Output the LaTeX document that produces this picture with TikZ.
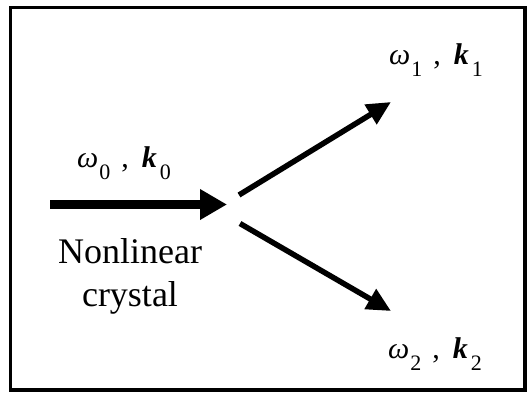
\documentclass[tikz,border=0pt]{standalone}
\usepackage{fontspec}
\setmainfont{Liberation Serif}
\newfontfamily\tnr{Liberation Serif}
\usetikzlibrary{arrows.meta}
\newcommand{\subsz}[1]{\raisebox{-12pt}{\fontsize{22}{22}\selectfont #1}}
\newcommand{\wk}[1]{\textit{ω}\hspace{1pt}\subsz{#1}\hspace{11pt},\hspace{13pt}\textbf{\textit{k}}\hspace{3pt}\subsz{#1}}
\begin{document}
\begin{tikzpicture}[x=1pt,y=-1pt,
  frame/.style={line width=3.5pt},
  beam/.style={line width=9pt,-{Triangle[length=27pt,width=29pt]}},
  outbeam/.style={line width=5.5pt,-{Triangle[length=24pt,width=22pt]}},
  lbl/.style={font=\tnr\fontsize{30}{30}\selectfont, inner sep=0pt, anchor=base west},
  txt/.style={font=\tnr\fontsize{36}{43}\selectfont, inner sep=0pt, align=center, anchor=base}
]
\useasboundingbox (0,0) rectangle (531,392);
\draw[frame] (10.25,7.5) rectangle (525,390);
\coordinate (in) at (50,204.5);
\coordinate (c) at (227,204.5);
\coordinate (s1) at (239,195);
\coordinate (t1) at (391,102);
\coordinate (s2) at (240,223.5);
\coordinate (t2) at (391,311);
\draw[beam] (in) -- (c);
\draw[outbeam] (s1) -- (t1);
\draw[outbeam] (s2) -- (t2);
\node[lbl] (l0) at (77,167) {\wk{0}};
\node[lbl] (l1) at (389,64) {\wk{1}};
\node[lbl] (l2) at (388,358) {\wk{2}};
\node[txt] (nl) at (130,306) {Nonlinear\\crystal};
\end{tikzpicture}
\end{document}
